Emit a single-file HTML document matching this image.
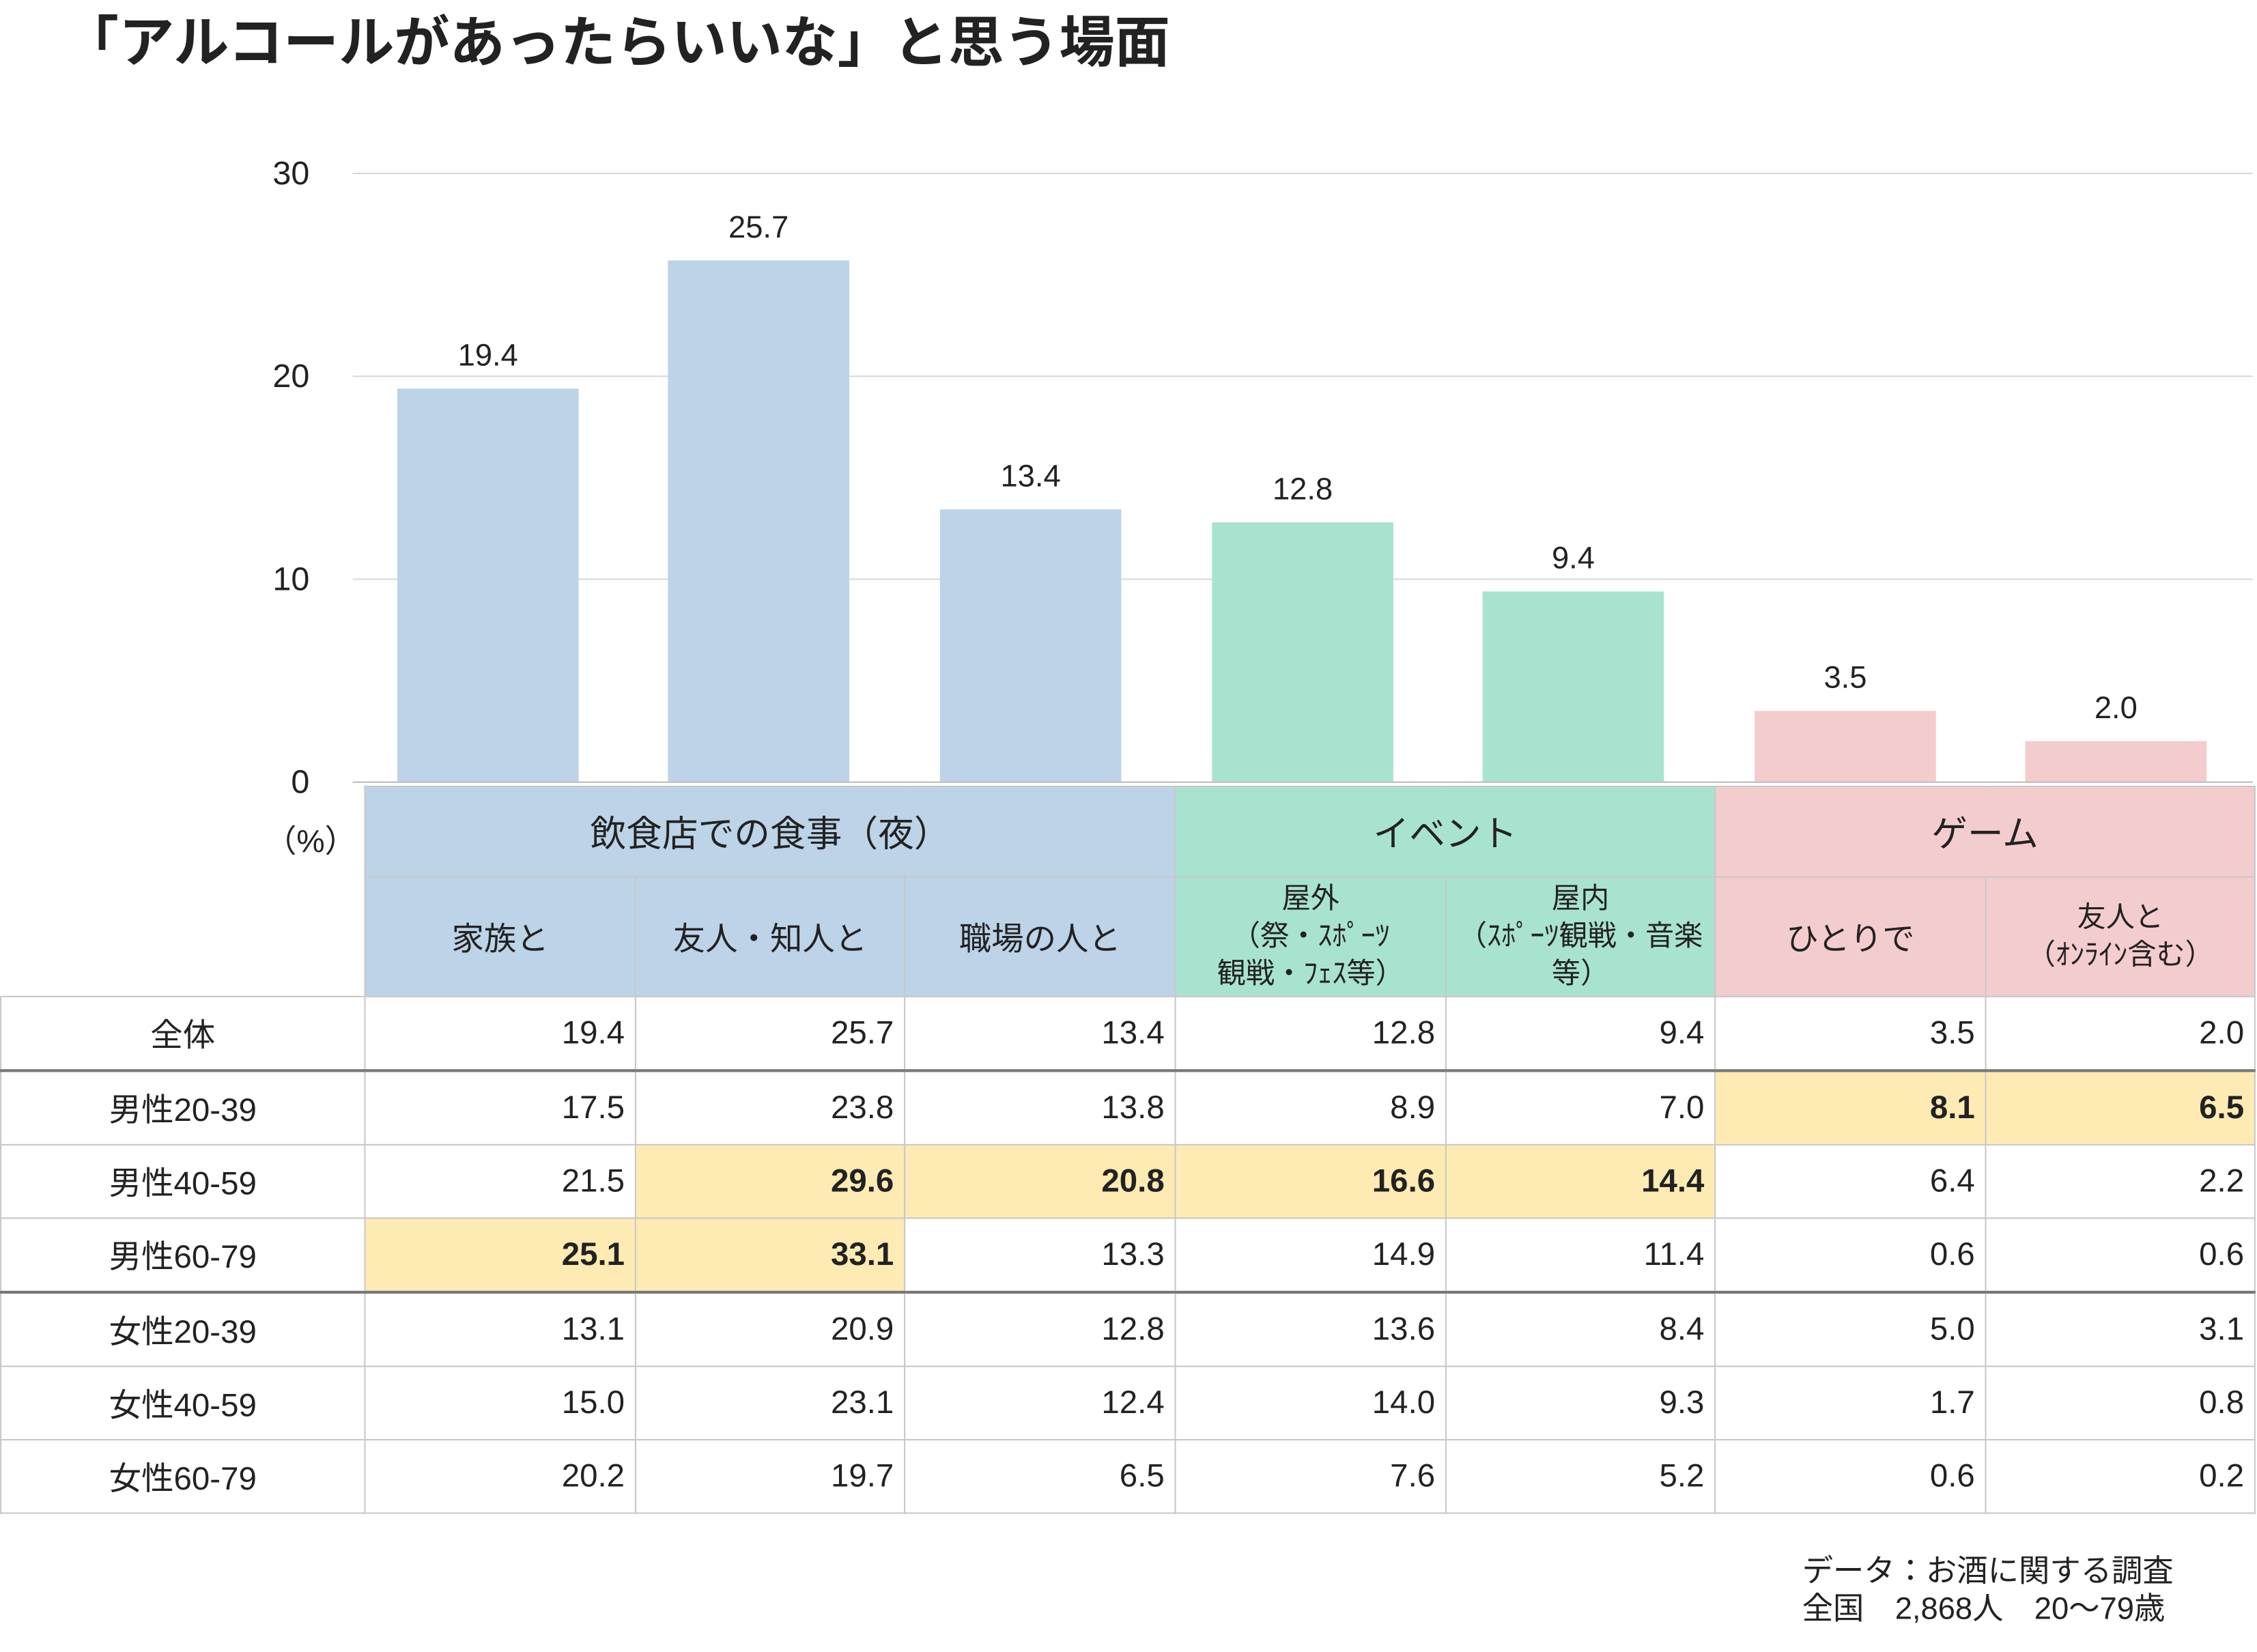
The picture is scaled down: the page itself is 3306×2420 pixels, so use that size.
<!DOCTYPE html>
<html><head><meta charset="utf-8">
<style>
html,body{margin:0;padding:0;background:#fff;}
body{width:3306px;height:2420px;overflow:hidden;position:relative;}
#w{position:absolute;left:0;top:0;width:1568px;height:1148px;transform:scale(2.1084,2.108);transform-origin:0 0;font-family:"Liberation Sans","Noto Sans CJK JP",sans-serif;color:#222;}
.a{position:absolute;}
.g{position:absolute;left:245px;width:1320px;height:1px;background:#d9d9d9;}
.t{position:absolute;width:62px;left:153px;text-align:right;font-size:23px;line-height:23px;}
.b{position:absolute;width:126px;}
.v{position:absolute;width:126px;text-align:center;font-size:21.5px;line-height:21px;}
table{position:absolute;left:0;top:546px;width:1567px;border-collapse:collapse;table-layout:fixed;font-size:22.5px;}
td{border:1px solid #c8c8c8;padding:0 7px;text-align:right;height:50px;white-space:nowrap;}
td.l{text-align:center;}
tr.h td{text-align:center;}
.bl{background:#bcd3e8;} .gr{background:#a8e3d0;} .pk{background:#f3cccd;} .y{background:#feebb3;font-weight:bold;}
tr.k td{border-top:2px solid #777;}
.sm{font-size:20px;line-height:26px;}
</style></head><body><div id="w">
<div class="a" style="left:44px;top:8px;font-size:38.5px;font-weight:bold;line-height:46px;white-space:nowrap;">「アルコールがあったらいいな」と思う場面</div>

<div class="g" style="top:120px"></div>
<div class="g" style="top:261px"></div>
<div class="g" style="top:402px"></div>
<div class="g" style="top:543px;background:#bbb"></div>
<div class="t" style="top:109px">30</div>
<div class="t" style="top:250px">20</div>
<div class="t" style="top:391px">10</div>
<div class="t" style="top:532px">0</div>
<div class="a" style="left:184px;top:567px;font-size:22px;">（%）</div>

<div class="b bl" style="left:276px;top:270px;height:273px"></div>
<div class="b bl" style="left:464px;top:181px;height:362px"></div>
<div class="b bl" style="left:653px;top:354px;height:189px"></div>
<div class="b gr" style="left:842px;top:363px;height:180px"></div>
<div class="b gr" style="left:1030px;top:411px;height:132px"></div>
<div class="b pk" style="left:1219px;top:494px;height:49px"></div>
<div class="b pk" style="left:1407px;top:515px;height:28px"></div>
<div class="v" style="left:276px;top:237px">19.4</div>
<div class="v" style="left:464px;top:148px">25.7</div>
<div class="v" style="left:653px;top:321px">13.4</div>
<div class="v" style="left:842px;top:330px">12.8</div>
<div class="v" style="left:1030px;top:378px">9.4</div>
<div class="v" style="left:1219px;top:461px">3.5</div>
<div class="v" style="left:1407px;top:482px">2.0</div>

<table>
<colgroup><col style="width:253px"><col style="width:188px"><col style="width:187px"><col style="width:188px"><col style="width:188px"><col style="width:187px"><col style="width:188px"><col style="width:187px"></colgroup>
<tr class="h"><td rowspan="2" style="border:none;border-bottom:1px solid #c8c8c8;"></td><td colspan="3" class="bl" style="height:62px;font-size:25px">飲食店での食事（夜）</td><td colspan="2" class="gr" style="font-size:25px">イベント</td><td colspan="2" class="pk" style="font-size:25px">ゲーム</td></tr>
<tr class="h"><td class="bl" style="height:82px">家族と</td><td class="bl">友人・知人と</td><td class="bl">職場の人と</td><td class="gr sm">屋外<br>（祭・ｽﾎﾟｰﾂ<br>観戦・ﾌｪｽ等）</td><td class="gr sm" style="padding:0">屋内<br>（ｽﾎﾟｰﾂ観戦・音楽<br>等）</td><td class="pk">ひとりで</td><td class="pk sm">友人と<br>（ｵﾝﾗｲﾝ含む）</td></tr>
<tr><td class="l">全体</td><td>19.4</td><td>25.7</td><td>13.4</td><td>12.8</td><td>9.4</td><td>3.5</td><td>2.0</td></tr>
<tr class="k"><td class="l">男性20-39</td><td>17.5</td><td>23.8</td><td>13.8</td><td>8.9</td><td>7.0</td><td class="y">8.1</td><td class="y">6.5</td></tr>
<tr><td class="l">男性40-59</td><td>21.5</td><td class="y">29.6</td><td class="y">20.8</td><td class="y">16.6</td><td class="y">14.4</td><td>6.4</td><td>2.2</td></tr>
<tr><td class="l">男性60-79</td><td class="y">25.1</td><td class="y">33.1</td><td>13.3</td><td>14.9</td><td>11.4</td><td>0.6</td><td>0.6</td></tr>
<tr class="k"><td class="l">女性20-39</td><td>13.1</td><td>20.9</td><td>12.8</td><td>13.6</td><td>8.4</td><td>5.0</td><td>3.1</td></tr>
<tr><td class="l">女性40-59</td><td>15.0</td><td>23.1</td><td>12.4</td><td>14.0</td><td>9.3</td><td>1.7</td><td>0.8</td></tr>
<tr><td class="l">女性60-79</td><td>20.2</td><td>19.7</td><td>6.5</td><td>7.6</td><td>5.2</td><td>0.6</td><td>0.2</td></tr>
</table>

<div class="a" style="left:1252px;top:1079px;font-size:21.5px;line-height:26px;white-space:pre;">データ：お酒に関する調査
全国　2,868人　20～79歳</div>
</div></body></html>
